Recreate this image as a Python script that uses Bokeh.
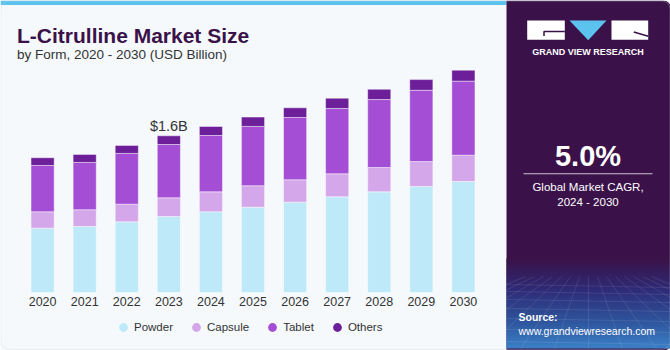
from bokeh.plotting import figure
from bokeh.models import (ColumnDataSource, Range1d, Label, BoxAnnotation,
                          PolyAnnotation, Legend, LegendItem)
from bokeh.core.properties import value
from bokeh.embed import file_html
from bokeh.resources import INLINE

# ---------------- data (USD Billion) ----------------
years = ["2020", "2021", "2022", "2023", "2024", "2025", "2026", "2027", "2028", "2029", "2030"]
powder = [0.657, 0.674, 0.722, 0.776, 0.824, 0.871, 0.922, 0.977, 1.028, 1.082, 1.133]
capsule = [0.167, 0.171, 0.180, 0.191, 0.204, 0.219, 0.229, 0.235, 0.248, 0.255, 0.269]
tablet = [0.473, 0.483, 0.518, 0.544, 0.575, 0.606, 0.636, 0.667, 0.694, 0.728, 0.756]
others = [0.079, 0.082, 0.082, 0.089, 0.092, 0.095, 0.099, 0.105, 0.105, 0.109, 0.112]
series_names = ["Powder", "Capsule", "Tablet", "Others"]
series_colors = ["#BDE9F9", "#D4A7EB", "#A34ED5", "#6D1F9A"]
highlight_year = "2023"
highlight_text = "$1.6B"
title_text = "L-Citrulline Market Size"
subtitle_text = "by Form, 2020 - 2030 (USD Billion)"
cagr_text = "5.0%"
cagr_caption = ["Global Market CAGR,", "2024 - 2030"]
brand_text = "GRAND VIEW RESEARCH"
source_lines = ["Source:", "www.grandviewresearch.com"]

# ---------------- layout constants ----------------
W, H = 670, 350
FONT = "Liberation Sans"
BG = "#F5F9FC"
PANEL = "#3A1249"
TEXT = "#333333"
BLUE = "#5BC3EE"
PX_PER_YEAR = 42.08
PX_PER_BN = 97.94
BASE_Y = 292          # canvas y of the bar baseline
FIRST_X = 42.1        # canvas x of the first bar centre

xnum = [int(y) for y in years]
x0 = xnum[0] - FIRST_X / PX_PER_YEAR
ylo = -(H - BASE_Y) / PX_PER_BN

src = ColumnDataSource(dict(x=xnum, year=years, Powder=powder, Capsule=capsule,
                            Tablet=tablet, Others=others))

p = figure(x_range=Range1d(x0, x0 + W / PX_PER_YEAR),
           y_range=Range1d(ylo, ylo + H / PX_PER_BN), width=W, height=H,
           output_backend="svg", toolbar_location=None,
           x_axis_location=None, y_axis_location=None,
           min_border_left=0, min_border_right=0, min_border_top=0, min_border_bottom=0,
           background_fill_color=BG, border_fill_color=BG, outline_line_color=None)
p.xgrid.visible = False
p.ygrid.visible = False

bars = p.vbar_stack(series_names, x="x", width=0.55, source=src, color=series_colors,
                    line_color="#FFFFFF", line_alpha=0.45, line_width=1)

# year labels under the bars (category axis labels)
p.text(x="x", y=0, text="year", source=src, text_align="center", text_baseline="top",
       y_offset=4, text_font=value(FONT), text_font_size="12.5px", text_color=TEXT)

# value label above highlighted bar
hi = years.index(highlight_year)
total_hi = powder[hi] + capsule[hi] + tablet[hi] + others[hi]
p.text(x=[xnum[hi]], y=[total_hi], text=[highlight_text], text_align="center",
       text_baseline="alphabetic", y_offset=-9.5, text_font=value(FONT),
       text_font_size="14.5px", text_color=TEXT)

# legend (circle markers; legend-only renderers with a single NaN point)
nan = float("nan")
dummies = [p.scatter(x=[nan], y=[nan], marker="circle", size=9, color=c, line_color=None)
           for c in series_colors]
legend = Legend(items=[LegendItem(label=n, renderers=[r]) for n, r in zip(series_names, dummies)],
                orientation="horizontal", location=(112, H - 338), padding=0, margin=0,
                spacing=12, glyph_width=22, glyph_height=22, label_standoff=0,
                border_line_color=None, background_fill_alpha=0,
                label_text_font=FONT, label_text_font_size="11.5px", label_text_color=TEXT)
p.add_layout(legend)


# ---------------- decoration helpers (canvas px, y downward) ----------------
def sy(cy):
    return H - cy


def box(l, t, r, b, color, alpha=1.0, radius=0, line=None, lw=1):
    p.add_layout(BoxAnnotation(left=l, right=r, top=sy(t), bottom=sy(b),
                               left_units="screen", right_units="screen",
                               top_units="screen", bottom_units="screen",
                               fill_color=color, fill_alpha=alpha if color else 0,
                               line_color=line, line_width=lw, border_radius=radius,
                               level="annotation"))


def poly(pts, fill=None, line=None, lw=1.0, alpha=1.0):
    p.add_layout(PolyAnnotation(xs=[a for a, b in pts], ys=[sy(b) for a, b in pts],
                                xs_units="screen", ys_units="screen",
                                fill_color=fill, fill_alpha=alpha if fill else 0,
                                line_color=line, line_width=lw, line_alpha=alpha,
                                level="annotation"))


def lab(text, cx, cy, size, color="#FFFFFF", bold=False, align="left", baseline="middle"):
    p.add_layout(Label(x=cx, y=sy(cy), x_units="screen", y_units="screen", text=text,
                       text_font=FONT, text_font_size=f"{size}px",
                       text_font_style="bold" if bold else "normal", text_color=color,
                       text_align=align, text_baseline=baseline))


def mix(c1, c2, t):
    a = [int(c1[i:i + 2], 16) for i in (1, 3, 5)]
    b = [int(c2[i:i + 2], 16) for i in (1, 3, 5)]
    return "#%02X%02X%02X" % tuple(round(x + (y - x) * t) for x, y in zip(a, b))


# top stripe
box(0, 0, 506, 4.5, BLUE)

# right panel
PL, PR = 506, 670
box(PL, 0, PR, 350, PANEL, radius=(0, 7, 7, 0))
stops = [(0.0, PANEL), (0.35, "#2E2C78"), (0.7, "#2E569E"), (1.0, "#3C82C8")]
y0, y1 = 258, 348
step = 2
yy = y0
while yy < y1:
    t = (yy - y0) / (y1 - y0)
    col = stops[-1][1]
    for (ta, ca), (tb, cb) in zip(stops[:-1], stops[1:]):
        if ta <= t <= tb:
            col = mix(ca, cb, (t - ta) / (tb - ta))
            break
    box(PL, yy, PR, min(yy + step + 0.5, y1), col)
    yy += step

# faint perspective grid
for gy in (284, 291, 299, 308, 318, 329, 341):
    poly([(PL, gy), (PR, gy + 3)], line="#FFFFFF", lw=0.8, alpha=0.12)
for k in range(-7, 8):
    xt, xb = 588 + k * 9, 588 + k * 34
    yt, yb = 276, 348
    if xb < PL:
        yb = yt + (yb - yt) * (PL - xt) / (xb - xt)
        xb = PL
    if xb > PR:
        yb = yt + (yb - yt) * (PR - xt) / (xb - xt)
        xb = PR
    poly([(xt, yt), (xb, yb)], line="#FFFFFF", lw=0.8, alpha=0.12)

# logo
box(526.7, 20, 564.3, 39.3, "#FFFFFF")
poly([(543.5, 31), (564.3, 31), (543.5, 31), (543.5, 35.5)], line=PANEL, lw=1.5)
poly([(569, 20), (606, 20), (587.7, 39.7)], fill=BLUE)
box(611, 20, 647.7, 39.3, "#FFFFFF")
poly([(633.3, 31.5), (647.7, 35.7)], line=PANEL, lw=1.5)
lab(brand_text, 587.5, 51, 9, bold=True, align="center")

# CAGR block
lab(cagr_text, 587.5, 155.5, 29, bold=True, align="center")
box(523, 172.8, 652, 173.8, "#FFFFFF", alpha=0.75)
lab(cagr_caption[0], 587.5, 186.5, 11.5, align="center")
lab(cagr_caption[1], 587.5, 201.5, 11.5, align="center")

# source
lab(source_lines[0], 518, 316, 10.5, bold=True)
lab(source_lines[1], 518, 330, 10.5)

# titles
lab(title_text, 16.5, 35, 21, color=PANEL, bold=True, baseline="alphabetic")
lab(subtitle_text, 16.5, 53.5, 13.5, color=TEXT, baseline="alphabetic")

# outer border
box(0.5, 0.5, 669.5, 349, None, radius=8, line="#D2D2D2", lw=1)

open("out.html", "w").write(file_html(p, INLINE))
